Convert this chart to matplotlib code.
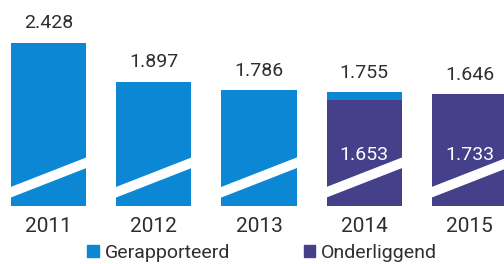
import matplotlib.pyplot as plt
from matplotlib.patches import Patch, Polygon

plt.rcParams['font.family'] = ['Roboto', 'DejaVu Sans']

years = ['2011', '2012', '2013', '2014', '2015']
reported = [2428, 1897, 1786, 1755, 1646]
underlying = [None, None, None, 1653, 1733]

reported_labels = ['2.428', '1.897', '1.786', '1.755', '1.646']
underlying_labels = [None, None, None, '1.653', '1.733']

blue = '#0c87d3'
purple = '#44418a'
textc = '#2e2e2e'

fig = plt.figure(figsize=(5.04, 2.64), dpi=100)
ax = fig.add_axes([0, 58 / 264, 1, 206 / 264])

x = list(range(len(years)))
w = 0.713
ax.bar(x, reported, width=w, color=blue)
for i, u in enumerate(underlying):
    if u is not None:
        ax.bar(i, u, width=w, color=purple)

ymin, ymax = 209, 3012
ax.set_ylim(ymin, ymax)
ax.set_xlim(-0.461, 4.328)

# white diagonal break stripe across each bar
for i in x:
    l, r = i - w / 2 - 0.02, i + w / 2 + 0.02
    y0, y1, h = 386, 807, 62
    ax.add_patch(Polygon([(l, y0 - h), (r, y1 - h), (r, y1 + h), (l, y0 + h)],
                         closed=True, color='white', zorder=3))

for i in x:
    top = max(reported[i], underlying[i] or 0)
    ax.annotate(reported_labels[i], (i, top), xytext=(0, 14), textcoords='offset points',
                ha='center', va='center', fontsize=14, color=textc)
    if underlying_labels[i]:
        ax.text(i, 905, underlying_labels[i], ha='center', va='center', fontsize=14,
                color='white', zorder=4)
    fig.text((48.5 + 105.25 * i) / 504, 1 - 226 / 264, years[i], ha='center', va='center',
             fontsize=15, color=textc)

ax.axis('off')

handles = [Patch(color=blue, label='Gerapporteerd'), Patch(color=purple, label='Onderliggend')]
fig.legend(handles=handles, loc='center', bbox_to_anchor=(0.52, 1 - 253 / 264), ncol=2,
           frameon=False, fontsize=14, handlelength=0.6, handleheight=0.6, handletextpad=0.3,
           columnspacing=3.8, labelcolor=textc)

fig.savefig('out.png', dpi=100)
